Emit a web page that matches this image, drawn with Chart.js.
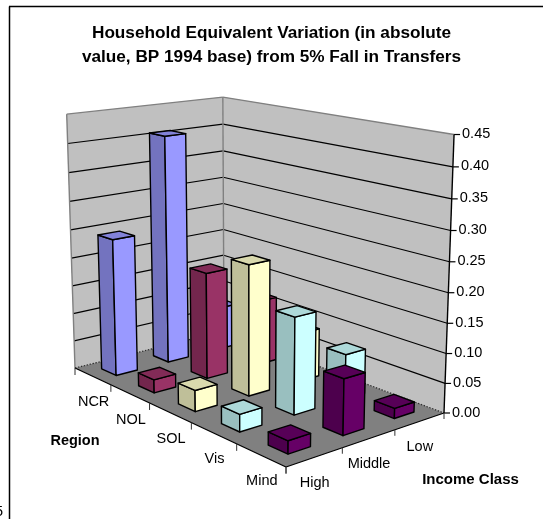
<!DOCTYPE html>
<html>
<head>
<meta charset="utf-8">
<title>Household Equivalent Variation</title>
<script src="https://cdn.jsdelivr.net/npm/chart.js@4"></script>
<style>
    html, body { margin: 0; padding: 0; background: #fff; }
    canvas { display: block; }
</style>
</head>
<body>
<canvas id="chart" width="543" height="519"></canvas>
<script>
const titleLines = ['Household Equivalent Variation (in absolute', 'value, BP 1994 base) from 5% Fall in Transfers'];
const regions = ['NCR', 'NOL', 'SOL', 'Vis', 'Mind'];
const incomeClasses = ['High', 'Middle', 'Low'];
const highValues = [0.242, 0.023, 0.036, 0.029, 0.021];
const middleValues = [0.407, 0.187, 0.225, 0.163, 0.092];
const lowValues = [0.078, 0.116, 0.085, 0.077, 0.017];
const regionColors = ['#9999FF', '#993366', '#FFFFCC', '#CCFFFF', '#660066'];

const FONT = '"Liberation Sans", Arial, sans-serif';
// floor corners on the page: left, front, right, back
const floorCorners = [[75, 368], [286, 467], [444, 413], [224, 331]];
// how a full-height lift moves a projected point
const liftX = -11.3, liftY = -259, liftW = -0.045;
const barShare = 0.4;

// homography from the unit floor square to floorCorners
function buildFloor(c) {
    const dx1 = c[1][0] - c[2][0], dx2 = c[3][0] - c[2][0], sx = c[0][0] - c[1][0] + c[2][0] - c[3][0];
    const dy1 = c[1][1] - c[2][1], dy2 = c[3][1] - c[2][1], sy = c[0][1] - c[1][1] + c[2][1] - c[3][1];
    const den = dx1 * dy2 - dx2 * dy1;
    const g = (sx * dy2 - dx2 * sy) / den;
    const h = (dx1 * sy - sx * dy1) / den;
    return {
        g, h,
        ax: c[1][0] - c[0][0] + g * c[1][0], bx: c[3][0] - c[0][0] + h * c[3][0], cx: c[0][0],
        ay: c[1][1] - c[0][1] + g * c[1][1], by: c[3][1] - c[0][1] + h * c[3][1], cy: c[0][1]
    };
}
const floor = buildFloor(floorCorners);

// a: along regions, b: along income classes, t: share of the value axis
function project(a, b, t) {
    const w = floor.g * a + floor.h * b + 1 + liftW * t;
    return [
        (floor.ax * a + floor.bx * b + floor.cx + liftX * t) / w,
        (floor.ay * a + floor.by * b + floor.cy + liftY * t) / w
    ];
}

function shade(hex, f) {
    const n = parseInt(hex.slice(1), 16);
    return `rgb(${Math.round((n >> 16) * f)},${Math.round(((n >> 8) & 255) * f)},${Math.round((n & 255) * f)})`;
}

function poly(ctx, pts, fill, stroke, width) {
    ctx.beginPath();
    pts.forEach((p, i) => i ? ctx.lineTo(p[0], p[1]) : ctx.moveTo(p[0], p[1]));
    ctx.closePath();
    if (fill) { ctx.fillStyle = fill; ctx.fill(); }
    if (stroke) { ctx.strokeStyle = stroke; ctx.lineWidth = width || 1; ctx.stroke(); }
}

function line(ctx, p, q, color, width) {
    ctx.beginPath();
    ctx.moveTo(p[0], p[1]);
    ctx.lineTo(q[0], q[1]);
    ctx.strokeStyle = color;
    ctx.lineWidth = width || 1;
    ctx.stroke();
}

function label(ctx, text, x, y, font, align) {
    ctx.font = font;
    ctx.fillStyle = '#000';
    ctx.textAlign = align || 'center';
    ctx.textBaseline = 'middle';
    ctx.fillText(text, x, y);
}

function drawWalls(ctx, yScale) {
    const top = (a, b) => project(a, b, 1);
    const bot = (a, b) => project(a, b, 0);
    poly(ctx, [bot(0, 0), bot(0, 1), top(0, 1), top(0, 0)], '#C0C0C0');
    poly(ctx, [bot(0, 1), bot(1, 1), top(1, 1), top(0, 1)], '#C0C0C0');
    poly(ctx, [bot(0, 0), bot(1, 0), bot(1, 1), bot(0, 1)], '#808080');

    yScale.ticks.forEach(tick => {
        const t = share(yScale, tick.value);
        if (t > 0 && t < 1) {
            line(ctx, project(0, 0, t), project(0, 1, t), '#000', 1.2);
            line(ctx, project(0, 1, t), project(1, 1, t), '#000', 1.2);
        }
    });

    // wall outline
    line(ctx, bot(0, 0), top(0, 0), '#808080', 1.4);
    line(ctx, top(0, 0), top(0, 1), '#808080', 1.4);
    line(ctx, top(0, 1), top(1, 1), '#808080', 1.4);
    line(ctx, top(0, 1), bot(0, 1), '#808080', 1.4);

    // dotted foot of the walls
    ctx.save();
    ctx.setLineDash([1.5, 1.5]);
    line(ctx, bot(0, 0), bot(0, 1), '#303030', 1.2);
    line(ctx, bot(0, 1), bot(1, 1), '#303030', 1.2);
    ctx.restore();

    line(ctx, bot(0, 0), bot(1, 0), '#000', 1.3);
    line(ctx, bot(1, 0), bot(1, 1), '#000', 1.3);
}

function drawAxes(ctx, xScale, yScale, zScale) {
    const font = `14.5px ${FONT}`;
    line(ctx, project(1, 1, 0), project(1, 1, 1), '#000', 1.4);
    yScale.ticks.forEach(tick => {
        const p = project(1, 1, share(yScale, tick.value));
        line(ctx, p, [p[0] + 6, p[1]], '#000', 1.2);
        label(ctx, tick.label, p[0] + 8, p[1] - 0.5, font, 'left');
    });

    for (let i = 0; i <= regions.length; i++) {
        const p = project(i / regions.length, 0, 0);
        line(ctx, p, [p[0], p[1] + 7], '#333');
    }
    for (let j = 0; j <= incomeClasses.length; j++) {
        const p = project(1, j / incomeClasses.length, 0);
        line(ctx, p, [p[0], p[1] + 6], '#333');
    }
    regions.forEach((name, i) => {
        const p = project(bandCentre(xScale, i), 0, 0);
        label(ctx, name, p[0] + 1, p[1] + 26, font);
    });
    incomeClasses.forEach((name, j) => {
        const p = project(1, bandCentre(zScale, j), 0);
        label(ctx, name, p[0], p[1] + 25.5, font);
    });
    label(ctx, 'Region', 75, 441, `bold 14.5px ${FONT}`);
    label(ctx, 'Income Class', 470.5, 480, `bold 15px ${FONT}`);
}

function share(yScale, value) {
    return (yScale.bottom - yScale.getPixelForValue(value)) / (yScale.bottom - yScale.top);
}

function bandCentre(scale, index) {
    return (scale.getPixelForValue(index) - scale.left) / scale.width;
}

function drawBar(ctx, color, a, b, t, halfA, halfB) {
    const a0 = a - halfA, a1 = a + halfA, b0 = b - halfB, b1 = b + halfB;
    poly(ctx, [project(a0, b0, 0), project(a1, b0, 0), project(a1, b0, t), project(a0, b0, t)], shade(color, 0.75), '#000', 1.4);
    poly(ctx, [project(a1, b0, 0), project(a1, b1, 0), project(a1, b1, t), project(a1, b0, t)], color, '#000', 1.4);
    poly(ctx, [project(a0, b0, t), project(a1, b0, t), project(a1, b1, t), project(a0, b1, t)], shade(color, 0.85), '#000', 1.4);
}

const box3d = {
    id: 'box3d',
    beforeDatasetsDraw(chart) {
        const ctx = chart.ctx;
        const { x: xScale, y: yScale, z: zScale } = chart.scales;
        ctx.save();
        ctx.lineJoin = 'round';

        // page frame and the clipped character next to it
        line(ctx, [9.5, 6.5], [9.5, 519], '#000', 1.5);
        line(ctx, [9, 6.5], [543, 6.5], '#000', 1.5);
        label(ctx, '5', -5, 512, `14.5px ${FONT}`, 'left');

        drawWalls(ctx, yScale);
        drawAxes(ctx, xScale, yScale, zScale);

        const halfA = barShare / regions.length / 2;
        const halfB = barShare / incomeClasses.length / 2;
        // back rows first so nearer bars cover them
        regions.forEach((name, i) => {
            for (let j = incomeClasses.length - 1; j >= 0; j--) {
                const ds = chart.data.datasets[j];
                drawBar(ctx, ds.backgroundColor[i], bandCentre(xScale, i), bandCentre(zScale, j),
                    share(yScale, ds.data[i]), halfA, halfB);
            }
        });
        ctx.restore();
        return false;
    }
};

new Chart(document.getElementById('chart'), {
    type: 'bar',
    data: {
        labels: regions,
        datasets: [
            { label: incomeClasses[0], data: highValues, backgroundColor: regionColors },
            { label: incomeClasses[1], data: middleValues, backgroundColor: regionColors },
            { label: incomeClasses[2], data: lowValues, backgroundColor: regionColors }
        ]
    },
    options: {
        responsive: false,
        animation: false,
        layout: { padding: 0 },
        scales: {
            x: { display: false },
            z: { type: 'category', axis: 'x', labels: incomeClasses, offset: true, display: false },
            y: {
                display: false,
                min: 0,
                max: 0.45,
                ticks: { stepSize: 0.05, callback: v => v.toFixed(2) }
            }
        },
        plugins: {
            legend: { display: false },
            tooltip: { enabled: false },
            title: {
                display: true,
                text: titleLines,
                color: '#000',
                font: { family: FONT, size: 17.2, weight: 'bold', lineHeight: 1.395 },
                padding: { top: 21, bottom: 0 }
            }
        }
    },
    plugins: [box3d]
});
</script>
</body>
</html>
